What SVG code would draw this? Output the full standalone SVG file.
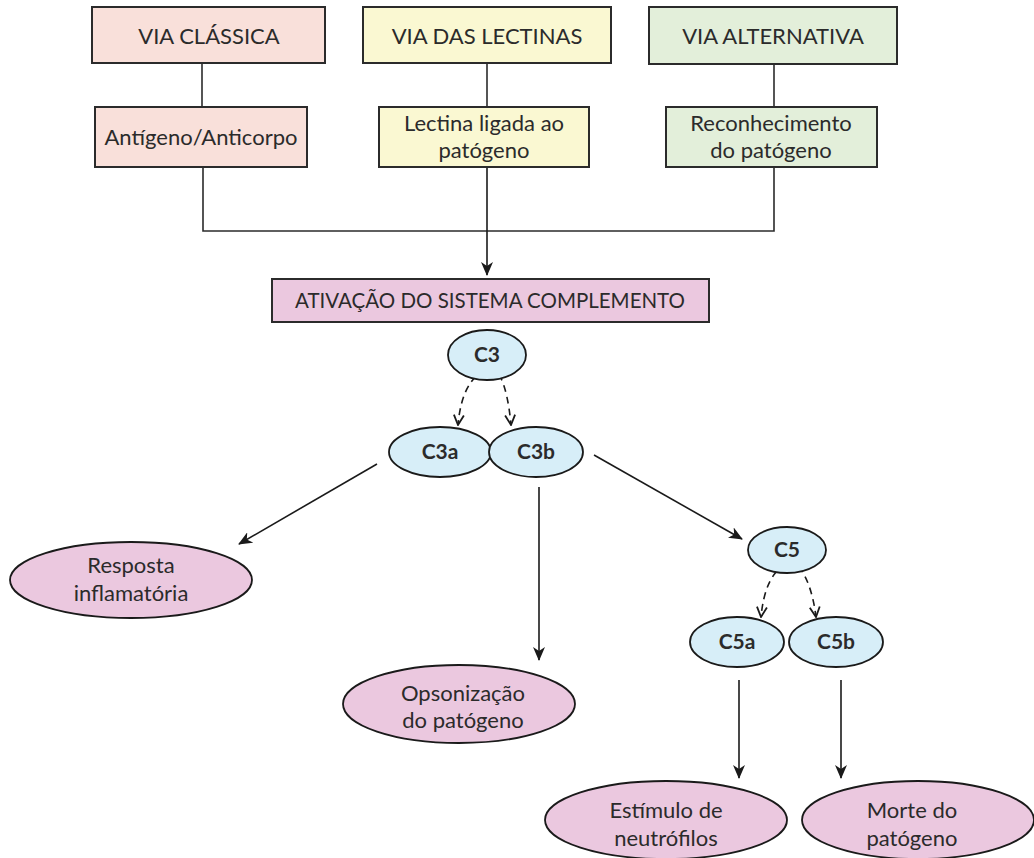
<svg xmlns="http://www.w3.org/2000/svg" width="1034" height="858" viewBox="0 0 1034 858">
<style>
text{font-family:Lato,"Liberation Sans",sans-serif;font-size:22px;fill:#2b2b2b;text-anchor:middle}
.b{font-weight:bold;font-size:21px}
.t{font-size:20.5px}
.box{stroke:#2b2b2b;stroke-width:2}
.ell{stroke:#1a1a1a;stroke-width:1.8}
.pk{fill:#F9E0DA}.yl{fill:#FAF8D2}.gr{fill:#E3EFDA}.mv{fill:#EBC8DF}.bl{fill:#D7EEF8}
.ln{fill:none;stroke:#2b2b2b;stroke-width:1.6}
.ar{fill:none;stroke:#1a1a1a;stroke-width:1.6;marker-end:url(#ah)}
.da{fill:none;stroke:#1a1a1a;stroke-width:1.6;stroke-dasharray:7 5;marker-end:url(#oh)}
</style>
<defs>
<marker id="ah" viewBox="0 0 14 12" refX="13" refY="6" markerWidth="14" markerHeight="12" markerUnits="userSpaceOnUse" orient="auto">
<path d="M0,0 L14,6 L0,12 L4,6 z" fill="#1a1a1a"/>
</marker>
<marker id="oh" viewBox="0 0 12 12" refX="11" refY="6" markerWidth="12" markerHeight="12" markerUnits="userSpaceOnUse" orient="auto">
<path d="M1,1 L11,6 L1,11" fill="none" stroke="#1a1a1a" stroke-width="1.8"/>
</marker>
</defs>
<g id="connectors">
<line class="ln" x1="202" y1="63" x2="202" y2="107"/>
<line class="ln" x1="487" y1="63" x2="487" y2="107"/>
<line class="ln" x1="774" y1="64" x2="774" y2="107"/>
<polyline class="ln" points="203,167 203,231 774,231 774,167"/>
<line class="ar" x1="487" y1="167" x2="487" y2="275"/>
<path class="da" d="M486 370 Q462 380 458 425"/>
<path class="da" d="M476 372 Q490 366 500 376 Q508 392 511 425"/>
<line class="ar" x1="377" y1="464" x2="239" y2="544"/>
<line class="ar" x1="539" y1="487" x2="539" y2="660"/>
<line class="ar" x1="594" y1="455" x2="742" y2="539"/>
<path class="da" d="M786 564 Q765 575 761 617"/>
<path class="da" d="M776 565 Q790 558 800 568 Q812 585 816 617"/>
<line class="ar" x1="739" y1="680" x2="739" y2="778"/>
<line class="ar" x1="841" y1="680" x2="841" y2="778"/>
</g>
<g id="via-classica"><rect class="box pk" x="92" y="7" width="233" height="56"/><text x="209" y="44">VIA CLÁSSICA</text></g>
<g id="via-lectinas"><rect class="box yl" x="363" y="7" width="248" height="56"/><text x="487" y="44">VIA DAS LECTINAS</text></g>
<g id="via-alternativa"><rect class="box gr" x="649" y="7" width="248" height="57"/><text x="773" y="44">VIA ALTERNATIVA</text></g>
<g id="antigeno"><rect class="box pk" x="95" y="107" width="212" height="60"/><text x="201" y="145">Antígeno/Anticorpo</text></g>
<g id="lectina"><rect class="box yl" x="379" y="107" width="210" height="60"/><text x="484" y="131">Lectina ligada ao</text><text x="484" y="158">patógeno</text></g>
<g id="reconhecimento"><rect class="box gr" x="666" y="107" width="211" height="60"/><text x="771" y="131">Reconhecimento</text><text x="771" y="158">do patógeno</text></g>
<g id="ativacao"><rect class="box mv" x="272" y="279" width="437" height="43"/><text class="t" x="490" y="308">ATIVAÇÃO DO SISTEMA COMPLEMENTO</text></g>
<g id="c3"><ellipse class="ell bl" cx="487" cy="355" rx="39" ry="25"/><text class="b" x="487" y="362">C3</text></g>
<g id="c3a"><ellipse class="ell bl" cx="440" cy="452" rx="51" ry="25"/><text class="b" x="440" y="459">C3a</text></g>
<g id="c3b"><ellipse class="ell bl" cx="536" cy="452" rx="47" ry="25"/><text class="b" x="536" y="459">C3b</text></g>
<g id="resposta"><ellipse class="ell mv" cx="131" cy="580" rx="121" ry="38"/><text x="131" y="573">Resposta</text><text x="131" y="601">inflamatória</text></g>
<g id="opsonizacao"><ellipse class="ell mv" cx="459" cy="704" rx="116" ry="39"/><text x="463" y="701">Opsonização</text><text x="463" y="728">do patógeno</text></g>
<g id="c5"><ellipse class="ell bl" cx="787" cy="550" rx="39" ry="23"/><text class="b" x="787" y="557">C5</text></g>
<g id="c5a"><ellipse class="ell bl" cx="737" cy="642" rx="47" ry="25"/><text class="b" x="737" y="649">C5a</text></g>
<g id="c5b"><ellipse class="ell bl" cx="836" cy="642" rx="47" ry="25"/><text class="b" x="836" y="649">C5b</text></g>
<g id="estimulo"><ellipse class="ell mv" cx="666" cy="820" rx="121" ry="39"/><text x="666" y="818">Estímulo de</text><text x="666" y="846">neutrófilos</text></g>
<g id="morte"><ellipse class="ell mv" cx="918" cy="820" rx="116" ry="39"/><text x="912" y="818">Morte do</text><text x="912" y="846">patógeno</text></g>
</svg>
